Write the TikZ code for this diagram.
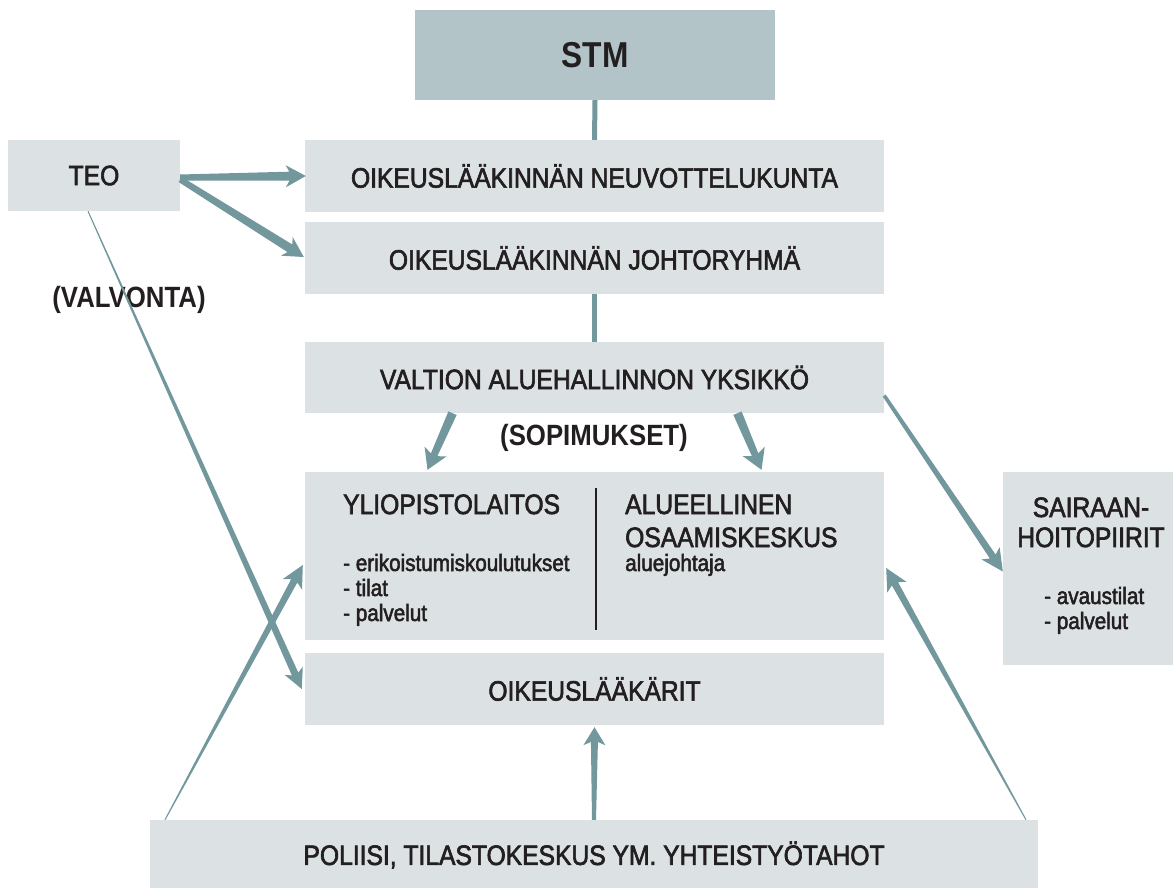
\documentclass[tikz,border=0pt]{standalone}
\usepackage{fontspec}
\setmainfont{Liberation Sans}[FakeStretch=0.88]
\font\diagbigf="Liberation Sans:extend=0.88;embolden=2.2" at 28pt
\font\diagsmallf="Liberation Sans:extend=0.88;embolden=2.2" at 23.5pt
\usetikzlibrary{calc}
\definecolor{boxcol}{RGB}{220,226,228}
\definecolor{stmcol}{RGB}{178,196,200}
\definecolor{arrcol}{RGB}{114,152,157}
\definecolor{txtcol}{RGB}{35,31,32}
\newcommand\diagbig{\diagbigf\baselineskip=30pt}
\newcommand\diagsmall{\diagsmallf\baselineskip=25pt}
\newcommand\diagbold{\fontsize{29.3}{30}\selectfont\bfseries}
\newcommand\diagstm{\fontsize{36}{38}\selectfont\bfseries}
% tapered arrow: #1 start, #2 tip, #3 half width at start, #4 half width at head, #5 head length, #6 head half width
\newcommand\taparrow[6]{%
  \coordinate (ta-A) at #1;
  \coordinate (ta-B) at #2;
  \coordinate (ta-C) at ($(ta-B)!#5!(ta-A)$);
  \coordinate (ta-D) at ($(ta-B)!0.82!(ta-C)$);
  \fill[arrcol] ($(ta-A)!#3!90:(ta-B)$) -- ($(ta-D)!#4!90:(ta-B)$) -- ($(ta-C)!#6!90:(ta-B)$) -- (ta-B)
    -- ($(ta-C)!#6!-90:(ta-B)$) -- ($(ta-D)!#4!-90:(ta-B)$) -- ($(ta-A)!#3!-90:(ta-B)$) -- cycle;}
\begin{document}
\begin{tikzpicture}[x=1pt,y=-1pt,
  box/.style={rectangle, fill=boxcol, inner sep=0pt, text=txtcol, font=\diagbig},
  conn/.style={draw=arrcol, line width=5pt},
  lbl/.style={inner sep=0pt, text=txtcol}]
\useasboundingbox[fill=white] (0,0) rectangle (1173,888);

% boxes
\node[box, fill=stmcol, minimum width=360pt, minimum height=90pt, font=\diagstm] (stm) at (595,55) {STM};
\node[box, minimum width=172pt, minimum height=71pt] (teo) at (94,175.5) {TEO};
\node[box, minimum width=579pt, minimum height=72pt] (neuv) at (594.5,176) {OIKEUSLÄÄKINNÄN NEUVOTTELUKUNTA};
\node[box, minimum width=579pt, minimum height=72pt] (johto) at (594.5,258) {OIKEUSLÄÄKINNÄN JOHTORYHMÄ};
\node[box, minimum width=579pt, minimum height=71pt] (valtion) at (594.5,377.5) {VALTION ALUEHALLINNON YKSIKKÖ};
\node[box, minimum width=579pt, minimum height=168pt] (ylio) at (594.5,556) {};
\node[box, minimum width=579pt, minimum height=72pt] (oikl) at (594.5,689) {OIKEUSLÄÄKÄRIT};
\node[box, minimum width=888pt, minimum height=70pt] (poliisi) at (594,855) {POLIISI, TILASTOKESKUS YM. YHTEISTYÖTAHOT};
\node[box, minimum width=170pt, minimum height=193pt] (sair) at (1088,568.5) {};

% texts inside the combined box
\coordinate (divtop) at (596,488);
\coordinate (divbot) at (596,630);
\draw[txtcol, line width=1.2pt] (divtop) -- (divbot);
\node[lbl, anchor=base west, font=\diagbig] (ylt) at (343,514) {YLIOPISTOLAITOS};
\node[lbl, anchor=base west, font=\diagsmall] (yl1) at (343,571) {- erikoistumiskoulutukset};
\node[lbl, anchor=base west, font=\diagsmall] (yl2) at (343,596) {- tilat};
\node[lbl, anchor=base west, font=\diagsmall] (yl3) at (343,621) {- palvelut};
\node[lbl, anchor=base west, font=\diagbig] (al1) at (625,514) {ALUEELLINEN};
\node[lbl, anchor=base west, font=\diagbig] (al2) at (625,547) {OSAAMISKESKUS};
\node[lbl, anchor=base west, font=\diagsmall] (al3) at (625,571) {aluejohtaja};

% sairaanhoitopiirit texts
\node[lbl, anchor=base, font=\diagbig] (sa1) at (1091,517) {SAIRAAN-};
\node[lbl, anchor=base, font=\diagbig] (sa2) at (1091,547) {HOITOPIIRIT};
\node[lbl, anchor=base west, font=\diagsmall] (sa3) at (1044,604) {- avaustilat};
\node[lbl, anchor=base west, font=\diagsmall] (sa4) at (1044,629) {- palvelut};

% connector lines
\draw[conn] (stm.south) -- (neuv.north);
\draw[conn] (johto.south) -- (valtion.north);

% labels
\node[lbl, font=\diagbold] (sop) at (594,438) {(SOPIMUKSET)};

% arrows
\taparrow{($(teo.east)+(0,2)$)}{($(neuv.west)+(1,0)$)}{3pt}{4.5pt}{20pt}{11pt}
\taparrow{($(teo.east)+(0,4)$)}{($(johto.west)+(-1,-1)$)}{3pt}{4.5pt}{20pt}{11pt}
\taparrow{($(valtion.south)+(-142,0)$)}{($(ylio.north)+(-167,-2)$)}{4.5pt}{3.5pt}{20pt}{12pt}
\taparrow{($(valtion.south)+(143,0)$)}{($(ylio.north)+(167,-2)$)}{4.5pt}{3.5pt}{20pt}{12pt}
\taparrow{($(valtion.east)+(0,18)$)}{($(sair.west)+(0,3)$)}{1.8pt}{3.5pt}{22pt}{11pt}
\taparrow{($(poliisi.north)+(432,0)$)}{($(ylio.east)+(2,12)$)}{0.5pt}{3.5pt}{22pt}{11pt}
\taparrow{($(poliisi.north)+(-429,0)$)}{($(ylio.west)+(-2,9)$)}{0.5pt}{3.5pt}{22pt}{11pt}
\taparrow{(poliisi.north)}{($(oikl.south)+(0,2)$)}{2pt}{3.5pt}{18pt}{11pt}

\node[lbl, font=\diagbold] (valv) at (129,300) {(VALVONTA)};
\taparrow{($(teo.south)+(-6,0)$)}{($(oikl.west)+(-3,0)$)}{0.5pt}{3.5pt}{20pt}{10pt}
\end{tikzpicture}
\end{document}
